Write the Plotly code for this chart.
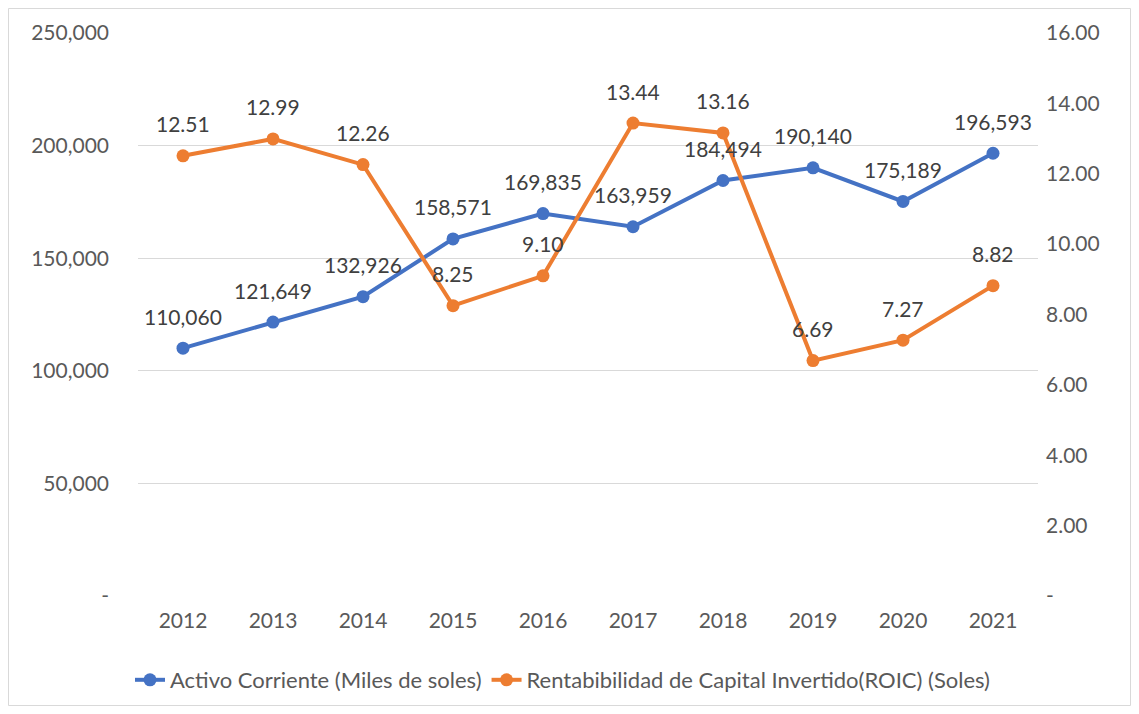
import plotly.graph_objects as go

years = [2012, 2013, 2014, 2015, 2016, 2017, 2018, 2019, 2020, 2021]
activo = [110060, 121649, 132926, 158571, 169835, 163959, 184494, 190140, 175189, 196593]
roic = [12.51, 12.99, 12.26, 8.25, 9.10, 13.44, 13.16, 6.69, 7.27, 8.82]
left_ticks = [0, 50000, 100000, 150000, 200000, 250000]
right_ticks = [0, 2, 4, 6, 8, 10, 12, 14, 16]

name_a = "Activo Corriente (Miles de soles)"
name_r = "Rentabibilidad de Capital Invertido(ROIC) (Soles)"

BLUE = "#4472C4"
ORANGE = "#ED7D31"
TXT = "#595959"
LBL = "#404040"
FONT = "Lato"
FS = 21

fig = go.Figure()
fig.add_trace(go.Scatter(
    x=years, y=activo, name=name_a, mode="lines+markers",
    line=dict(color=BLUE, width=4), marker=dict(size=13, color=BLUE), yaxis="y",
))
fig.add_trace(go.Scatter(
    x=years, y=roic, name=name_r, mode="lines+markers",
    line=dict(color=ORANGE, width=4), marker=dict(size=13, color=ORANGE), yaxis="y2",
))

annotations = []
for yr, v in zip(years, activo):
    annotations.append(dict(x=yr, y=v, xref="x", yref="y", text=f"{v:,}", showarrow=False,
                            yanchor="middle", yshift=32,
                            font=dict(family=FONT, size=FS, color=LBL)))
for yr, v in zip(years, roic):
    annotations.append(dict(x=yr, y=v, xref="x", yref="y2", text=f"{v:.2f}", showarrow=False,
                            yanchor="middle", yshift=32,
                            font=dict(family=FONT, size=FS, color=LBL)))

# page body has an 8px margin -> figure origin at (8, 8) of the window
W, H = 1123, 698
L, T = 130, 25
pw, ph = 900, 563
R = W - L - pw
B = H - T - ph

fig.update_layout(
    width=W, height=H,
    margin=dict(l=L, r=R, t=T, b=B, autoexpand=False),
    paper_bgcolor="white", plot_bgcolor="white",
    font=dict(family=FONT, size=FS, color=TXT),
    showlegend=True,
    legend=dict(orientation="h", x=(122 - L) / pw, xanchor="left",
                y=-(672 - T - ph) / ph, yanchor="middle",
                font=dict(family=FONT, size=22, color=TXT)),
    annotations=annotations,
    xaxis=dict(range=[years[0] - 0.5, years[-1] + 0.5], tickvals=years,
               ticktext=[str(y) for y in years],
               showgrid=False, showline=False, zeroline=False, ticks="",
               automargin=False,
               tickfont=dict(family=FONT, size=FS, color=TXT), ticklabelstandoff=10),
    yaxis=dict(range=[0, 250000], tickvals=left_ticks, automargin=False,
               ticktext=["-" if v == 0 else f"{v:,}" for v in left_ticks],
               showgrid=True, gridcolor="#D9D9D9", gridwidth=1, zeroline=False,
               showline=False, ticks="", tickfont=dict(family=FONT, size=FS, color=TXT),
               ticklabelstandoff=28),
    yaxis2=dict(range=[0, 16], tickvals=right_ticks, automargin=False,
                ticktext=["-" if v == 0 else f"{v:.2f}" for v in right_ticks],
                overlaying="y", side="right", showgrid=False, zeroline=False,
                showline=False, ticks="", tickfont=dict(family=FONT, size=FS, color=TXT),
                ticklabelstandoff=7),
    shapes=[dict(type="rect", xref="paper", yref="paper",
                 x0=(0.5 - L) / pw, x1=(W - 0.5 - L) / pw,
                 y0=(T + ph - (H - 0.5)) / ph, y1=(T + ph - 0.5) / ph,
                 line=dict(color="#D9D9D9", width=1), fillcolor="rgba(0,0,0,0)", layer="below")],
)

fig.write_html("out.html")
